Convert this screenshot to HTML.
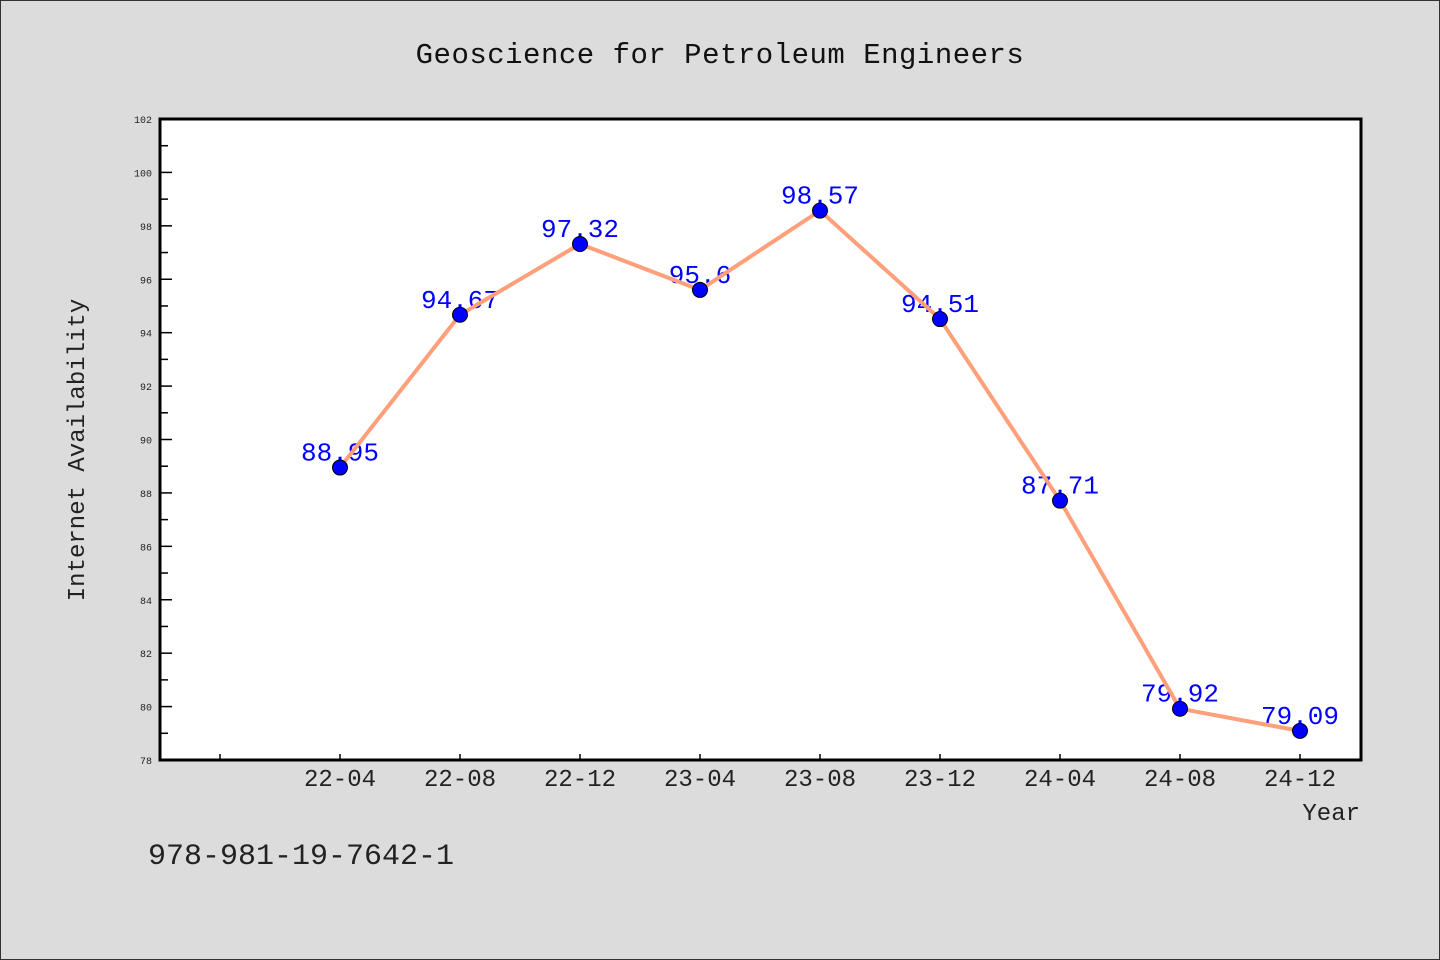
<!DOCTYPE html>
<html><head><meta charset="utf-8"><style>
html,body{margin:0;padding:0;background:#dcdcdc;}
svg{display:block;}
text{font-family:"Liberation Mono","WenQuanYi Zen Hei",monospace;}
</style></head><body>
<svg id="chart" width="1440" height="960" xmlns="http://www.w3.org/2000/svg">
<rect x="0.5" y="0.5" width="1439" height="959" fill="#dcdcdc" stroke="#333" stroke-width="1"/>
<text x="720" y="63" font-size="29" text-anchor="middle" fill="#111" letter-spacing="0.5">Geoscience for Petroleum Engineers</text>
<rect x="160" y="119" width="1201" height="641" fill="#fff"/>
<g id="yticks"></g>
<g id="xticks"></g>
<g id="series"></g>
<path d="M160 119 H1361 V760 H160 Z" fill="none" stroke="#000" stroke-width="3"/>
<text transform="translate(84,450) rotate(-90)" font-size="24" text-anchor="middle" fill="#222">Internet Availability</text>
<text x="1360" y="820" font-size="24" text-anchor="end" fill="#222">Year</text>
<text x="148" y="864" font-size="30" fill="#222">978-981-19-7642-1</text>
</svg>
<script>
const categories = ["22-04","22-08","22-12","23-04","23-08","23-12","24-04","24-08","24-12"];
const values = [88.95,94.67,97.32,95.6,98.57,94.51,87.71,79.92,79.09];
const valueLabels = ["88.95","94.67","97.32","95.6","98.57","94.51","87.71","79.92","79.09"];
const yTicks = [78,80,82,84,86,88,90,92,94,96,98,100,102];
const NS="http://www.w3.org/2000/svg";
const yMin=78,yMax=102,plotTop=119,plotBot=760;
function yPos(v){return plotBot-(v-yMin)/(yMax-yMin)*(plotBot-plotTop);}
function xPos(i){return 340+120*i;}
function mk(tag,attrs,parent){const e=document.createElementNS(NS,tag);for(const k in attrs)e.setAttribute(k,attrs[k]);parent.appendChild(e);return e;}
const yg=document.getElementById('yticks');
yTicks.forEach((t,i)=>{
  const l=mk('line',{x1:160,x2:172,y1:yPos(t),y2:yPos(t),stroke:'#000','stroke-width':1.5},yg);
  
  
  const tx=mk('text',{x:152,y:yPos(t)+4,'font-size':10,'text-anchor':'end',fill:'#222'},yg);
  tx.textContent=t;
  
  
  if(i<yTicks.length-1){
    const m=mk('line',{x1:160,x2:168,y1:yPos(t+1),y2:yPos(t+1),stroke:'#000','stroke-width':1.5},yg);
    
    
  }
});
const xg=document.getElementById('xticks');
const t0=mk('line',{x1:xPos(-1),x2:xPos(-1),y1:760,y2:754,stroke:'#000','stroke-width':1.5},xg);


categories.forEach((c,i)=>{
  const l=mk('line',{x1:xPos(i),x2:xPos(i),y1:760,y2:754,stroke:'#000','stroke-width':1.5},xg);
  
  
  const tx=mk('text',{x:xPos(i),y:786,'font-size':24,'text-anchor':'middle',fill:'#222'},xg);
  tx.textContent=c;
  
  
});
const sg=document.getElementById('series');
values.forEach((v,i)=>{
  const tx=mk('text',{x:xPos(i),y:yPos(v)-7,'font-size':26,'text-anchor':'middle',fill:'#0000ff'},sg);
  tx.textContent=valueLabels[i];
  
  
});
const pl=mk('polyline',{points:values.map((v,i)=>xPos(i)+','+yPos(v)).join(' '),fill:'none',stroke:'#ffa07a','stroke-width':4,'stroke-linejoin':'round'},sg);


values.forEach((v,i)=>{
  const c=mk('circle',{cx:xPos(i),cy:yPos(v),r:7.5,fill:'#0000ff',stroke:'#000','stroke-width':1},sg);
  
  
});
</script>
</body></html>
